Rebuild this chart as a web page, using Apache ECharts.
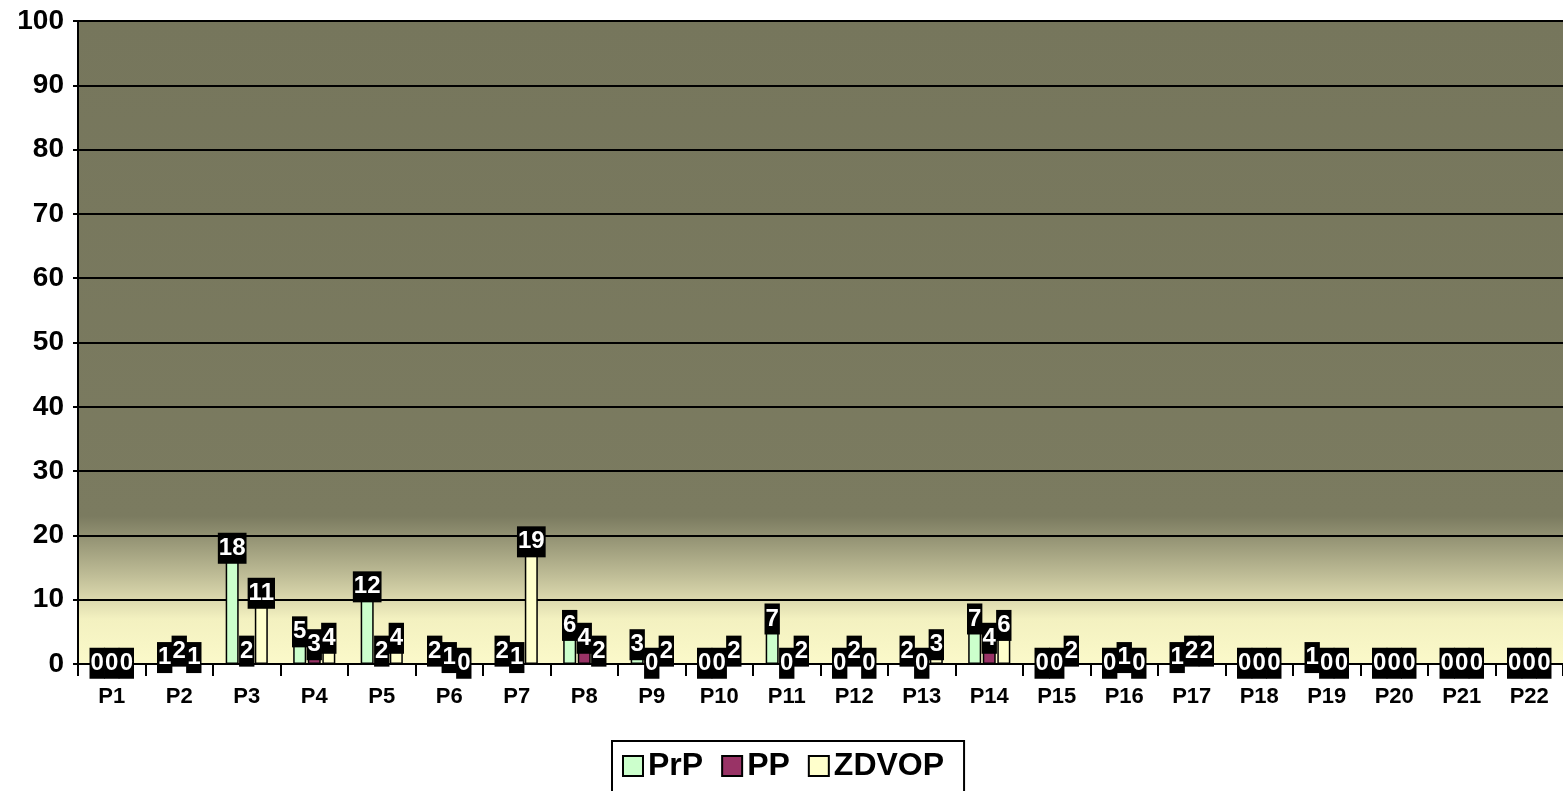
<!DOCTYPE html>
<html>
<head>
<meta charset="utf-8">
<script src="https://cdn.jsdelivr.net/npm/echarts@6/dist/echarts.min.js"></script>
<style>
  html, body { margin: 0; padding: 0; background: #fff; }
  #chart { width: 1563px; height: 791px; }
</style>
</head>
<body>
<div id="chart"></div>
<script>
const categories = ["P1","P2","P3","P4","P5","P6","P7","P8","P9","P10","P11","P12","P13","P14","P15","P16","P17","P18","P19","P20","P21","P22"];
const prp   = [0,1,18,5,12,2,2,6,3,0,7,0,2,7,0,0,1,0,1,0,0,0];
const pp    = [0,2,2,3,2,1,1,4,0,0,0,2,0,4,0,1,2,0,0,0,0,0];
const zdvop = [0,1,11,4,4,0,19,2,2,2,2,0,3,6,2,0,2,0,0,0,0,0];

const chart = echarts.init(document.getElementById("chart"));

// label: white bold number on a black box, centred on the top of the bar
const barLabel = {
  show: true,
  position: ["50%", 0],
  align: "center",
  verticalAlign: "middle",
  color: "#fff",
  backgroundColor: "#000",
  fontFamily: "Liberation Sans",
  fontWeight: "bold",
  fontSize: 24,
  lineHeight: 28,
  padding: [2, 1, 1, 1]
};

function makeSeries(name, data, color) {
  return {
    name: name,
    type: "bar",
    data: data,
    barWidth: 13,
    barGap: "12%",
    itemStyle: { color: color, borderColor: "#000", borderWidth: 1.5 },
    label: barLabel
  };
}

const option = {
  animation: false,
  grid: {
    left: 78, right: 0, top: 21, bottom: 127,
    show: true,
    borderWidth: 0,
    backgroundColor: {
      type: "linear", x: 0, y: 0, x2: 0, y2: 1,
      colorStops: [
        { offset: 0, color: "#76765c" },
        { offset: 0.77, color: "#7b7b60" },
        { offset: 0.86, color: "#bdbb95" },
        { offset: 0.9, color: "#dcd9ae" },
        { offset: 0.93, color: "#f3f1c0" },
        { offset: 1, color: "#fbf9ca" }
      ]
    }
  },
  legend: {
    top: 741,
    left: 612,
    itemWidth: 20,
    itemHeight: 20,
    itemGap: 18,
    icon: "rect",
    padding: [9, 20, 40, 10],
    borderColor: "#000",
    borderWidth: 2,
    textStyle: { fontFamily: "Liberation Sans", fontWeight: "bold", fontSize: 32, color: "#000" },
    itemStyle: { borderColor: "#000", borderWidth: 2 }
  },
  xAxis: {
    type: "category",
    data: categories,
    axisLine: { lineStyle: { color: "#000", width: 2 } },
    axisTick: { show: true, length: 12, lineStyle: { color: "#000", width: 2 } },
    axisLabel: { fontFamily: "Liberation Sans", fontWeight: "bold", fontSize: 22, color: "#000", margin: 22 }
  },
  yAxis: {
    type: "value",
    min: 0,
    max: 100,
    interval: 10,
    axisLine: { show: true, lineStyle: { color: "#000", width: 2 } },
    axisTick: { show: true, length: 5, lineStyle: { color: "#000", width: 2 } },
    axisLabel: { fontFamily: "Liberation Sans", fontWeight: "bold", fontSize: 28, color: "#000", margin: 14 },
    splitLine: { lineStyle: { color: "#000", width: 2 } }
  },
  series: [
    makeSeries("PrP", prp, "#ccffcc"),
    makeSeries("PP", pp, "#993366"),
    makeSeries("ZDVOP", zdvop, "#ffffcc")
  ]
};

chart.setOption(option);
window.addEventListener("resize", () => chart.resize());
</script>
</body>
</html>
